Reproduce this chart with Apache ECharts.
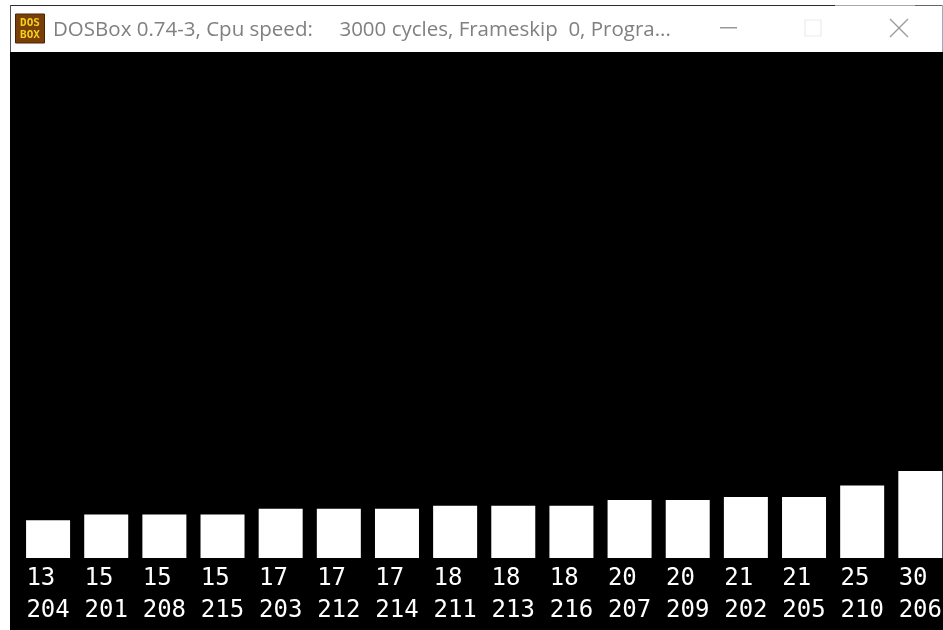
<!DOCTYPE html>
<html><head><meta charset="utf-8">
<style>html,body{margin:0;padding:0;background:#fff;overflow:hidden;width:943px;height:630px}#c{width:960px;height:630px}</style>
<script src="https://cdn.jsdelivr.net/npm/echarts@6/dist/echarts.min.js"></script></head>
<body><div id="c"></div>
<script>
const ids = ['204','201','208','215','203','212','214','211','213','216','207','209','202','205','210','206'];
const values = [13,15,15,15,17,17,17,18,18,18,20,20,21,21,25,30];
const windowTitle = 'DOSBox 0.74-3, Cpu speed:     3000 cycles, Frameskip  0, Progra...';
const chart = echarts.init(document.getElementById('c'), null, {renderer:'canvas'});
const iconFont = {fill:'#f2d21c',fontSize:11,fontWeight:'bold',align:'center',verticalAlign:'middle',fontFamily:'DejaVu Sans Mono'};
chart.setOption({
  animation:false,
  backgroundColor:'#fff',
  title:{text:windowTitle,left:53,top:20,padding:0,textStyle:{fontFamily:'"Open Sans","Noto Sans",sans-serif',fontWeight:'normal',fontSize:20.5,color:'#808080'}},
  graphic:[
    {type:'rect',z:-1,shape:{x:10,y:52,width:950,height:578},style:{fill:'#000'}},
    {type:'rect',shape:{x:10,y:5,width:825,height:1},style:{fill:'#2a2a2a'}},
    {type:'rect',shape:{x:835,y:5,width:80,height:1},style:{fill:'#a8a8a8'}},
    {type:'rect',shape:{x:915,y:5,width:28,height:1},style:{fill:'#666'}},
    {type:'rect',shape:{x:10,y:5,width:1,height:47},style:{fill:'#555'}},
    {type:'rect',shape:{x:942,y:5,width:1,height:47},style:{fill:'#9ab'}},
    {type:'rect',shape:{x:15.5,y:14,width:29,height:29},style:{fill:'#7a3f08',stroke:'#4a2504',lineWidth:1}},
    {type:'text',style:Object.assign({x:30,y:23,text:'DOS'},iconFont)},
    {type:'text',style:Object.assign({x:30,y:35,text:'BOX'},iconFont)},
    {type:'rect',shape:{x:720,y:27,width:17,height:1.5},style:{fill:'#999'}},
    {type:'rect',shape:{x:805,y:20,width:16,height:16},style:{fill:'none',stroke:'#ececec',lineWidth:1.2}},
    {type:'line',shape:{x1:890,y1:19,x2:908,y2:37},style:{stroke:'#999',lineWidth:1.2}},
    {type:'line',shape:{x1:908,y1:19,x2:890,y2:37},style:{stroke:'#999',lineWidth:1.2}}
  ],
  grid:{left:19,width:930.4,top:65,height:493},
  xAxis:{type:'category',data:ids,axisLine:{show:false},axisTick:{show:false},
    axisLabel:{interval:0,margin:5,color:'#fff',fontFamily:'"DejaVu Sans Mono"',fontSize:24,lineHeight:32,
      formatter:(v,i)=>String(values[i]).padEnd(3,'\u00a0')+'\n'+v}},
  yAxis:{type:'value',min:0,max:170,show:false,splitLine:{show:false}},
  series:[{type:'bar',data:values,barWidth:44,itemStyle:{color:'#fff'}}]
});
</script></body></html>
